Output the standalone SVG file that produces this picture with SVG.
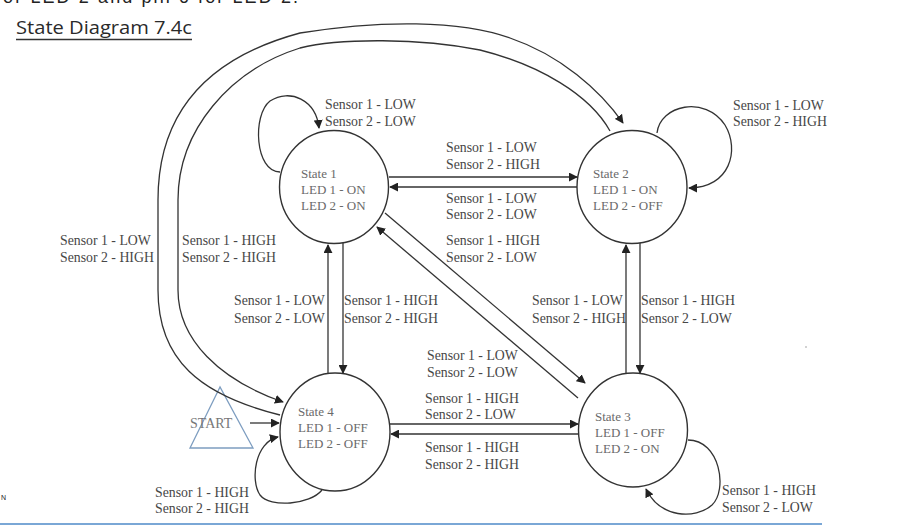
<svg xmlns="http://www.w3.org/2000/svg" width="901" height="527" viewBox="0 0 901 527">
<style>
.st{fill:none;stroke:#333;stroke-width:1.4}
.ln{fill:none;stroke:#333;stroke-width:1.3}
.arr{marker-end:url(#ah)}
.lbl{font-family:"Liberation Serif",serif;font-size:13.8px;fill:#474747}
.stt{font-family:"Liberation Serif",serif;font-size:13px;fill:#6a6a6a}
</style>
<defs>
<marker id="ah" viewBox="0 0 10 10" refX="9" refY="5" markerWidth="9" markerHeight="9" markerUnits="userSpaceOnUse" orient="auto">
<path d="M0,0 L10,5 L0,10 z" fill="#222"/>
</marker>
</defs>
<rect width="901" height="527" fill="#fff"/>
<text x="-4" y="3" font-family="Liberation Sans,sans-serif" font-size="18" fill="#222" textLength="302">for LED 2 and pin 6 for LED 2.</text>
<g id="title">
<text x="16" y="34" font-family="Open Sans,Liberation Sans,sans-serif" font-size="19" fill="#2a2a2a" textLength="176" lengthAdjust="spacingAndGlyphs">State Diagram 7.4c</text>
<line x1="16" y1="39.5" x2="192" y2="39.5" stroke="#333" stroke-width="1.3"/>
</g>
<g id="state1">
<ellipse class="st" cx="334" cy="187" rx="54.5" ry="56.5"/>
<text class="stt" x="301" y="178">State 1</text>
<text class="stt" x="301" y="194">LED 1 - ON</text>
<text class="stt" x="301" y="210">LED 2 - ON</text>
</g>
<g id="state2">
<ellipse class="st" cx="632" cy="187" rx="55" ry="56.5"/>
<text class="stt" x="593" y="178">State 2</text>
<text class="stt" x="593" y="194">LED 1 - ON</text>
<text class="stt" x="593" y="210">LED 2 - OFF</text>
</g>
<g id="state3">
<ellipse class="st" cx="633" cy="430" rx="54.5" ry="57"/>
<text class="stt" x="595" y="421">State 3</text>
<text class="stt" x="595" y="437">LED 1 - OFF</text>
<text class="stt" x="595" y="453">LED 2 - ON</text>
</g>
<g id="state4">
<ellipse class="st" cx="335" cy="432" rx="55" ry="59"/>
<text class="stt" x="298" y="416">State 4</text>
<text class="stt" x="298" y="432">LED 1 - OFF</text>
<text class="stt" x="298" y="448">LED 2 - OFF</text>
</g>
<g id="start">
<polygon points="220,387 190,448 253,448" fill="none" stroke="#7d9dc0" stroke-width="1.3"/>
<text x="190" y="428" font-family="Liberation Serif,serif" font-size="14" fill="#777">START</text>
</g>
<g id="connectors">
<path class="ln arr" d="M250,423 L279,423"/>
<path class="ln arr" d="M280,172 C255,172 252,115 270,101 C290,88 316,100 319,128"/>
<path class="ln arr" d="M657,133 C660,105 705,95 725,125 C740,150 730,188 689,188"/>
<path class="ln arr" d="M322,490 C310,505 270,508 260,495 C250,480 255,442 278,437"/>
<path class="ln arr" d="M688,440 C720,440 728,490 712,505 C695,520 660,518 646,489"/>
<path class="ln arr" d="M389,177 L577,177"/>
<path class="ln arr" d="M577,187 L390,187"/>
<path class="ln arr" d="M385,213 L585,383"/>
<path class="ln arr" d="M578,398 L377,227"/>
<path class="ln arr" d="M328,373 L328,245"/>
<path class="ln arr" d="M343,243 L343,373"/>
<path class="ln arr" d="M626,373 L626,245"/>
<path class="ln arr" d="M640,243 L640,373"/>
<path class="ln arr" d="M390,424 L578,424"/>
<path class="ln arr" d="M578,434 L391,434"/>
<path class="ln arr" d="M280,415 C200,395 158,360 158,290 L158,200 C158,120 200,60 300,33 C380,20 460,20 510,38 C560,55 600,90 623,123"/>
<path class="ln arr" d="M610,131 C590,95 540,65 480,50 C420,38 340,38 300,48 C230,70 178,130 178,200 L178,290 C178,340 220,380 283,402"/>
</g>
<g id="labels">
<text class="lbl" x="325" y="109">Sensor 1 - LOW</text>
<text class="lbl" x="325" y="126">Sensor 2 - LOW</text>
<text class="lbl" x="733" y="110">Sensor 1 - LOW</text>
<text class="lbl" x="733" y="126">Sensor 2 - HIGH</text>
<text class="lbl" x="446" y="152">Sensor 1 - LOW</text>
<text class="lbl" x="446" y="169">Sensor 2 - HIGH</text>
<text class="lbl" x="446" y="203">Sensor 1 - LOW</text>
<text class="lbl" x="446" y="219">Sensor 2 - LOW</text>
<text class="lbl" x="446" y="245">Sensor 1 - HIGH</text>
<text class="lbl" x="446" y="262">Sensor 2 - LOW</text>
<text class="lbl" x="60" y="245">Sensor 1 - LOW</text>
<text class="lbl" x="60" y="262">Sensor 2 - HIGH</text>
<text class="lbl" x="182" y="245">Sensor 1 - HIGH</text>
<text class="lbl" x="182" y="262">Sensor 2 - HIGH</text>
<text class="lbl" x="234" y="305">Sensor 1 - LOW</text>
<text class="lbl" x="234" y="323">Sensor 2 - LOW</text>
<text class="lbl" x="344" y="305">Sensor 1 - HIGH</text>
<text class="lbl" x="344" y="323">Sensor 2 - HIGH</text>
<text class="lbl" x="532" y="305">Sensor 1 - LOW</text>
<text class="lbl" x="532" y="323">Sensor 2 - HIGH</text>
<text class="lbl" x="641" y="305">Sensor 1 - HIGH</text>
<text class="lbl" x="641" y="323">Sensor 2 - LOW</text>
<text class="lbl" x="427" y="360">Sensor 1 - LOW</text>
<text class="lbl" x="427" y="377">Sensor 2 - LOW</text>
<text class="lbl" x="425" y="403">Sensor 1 - HIGH</text>
<text class="lbl" x="425" y="419">Sensor 2 - LOW</text>
<text class="lbl" x="425" y="452">Sensor 1 - HIGH</text>
<text class="lbl" x="425" y="469">Sensor 2 - HIGH</text>
<text class="lbl" x="155" y="497">Sensor 1 - HIGH</text>
<text class="lbl" x="155" y="513">Sensor 2 - HIGH</text>
<text class="lbl" x="722" y="495">Sensor 1 - HIGH</text>
<text class="lbl" x="722" y="512">Sensor 2 - LOW</text>
</g>
<text x="1" y="500" font-family="Liberation Sans,sans-serif" font-size="7" fill="#222">N</text>
<circle cx="806" cy="347" r="0.8" fill="#999"/>
<line x1="0" y1="524" x2="822" y2="524" stroke="#7aa7d6" stroke-width="2"/>
</svg>
